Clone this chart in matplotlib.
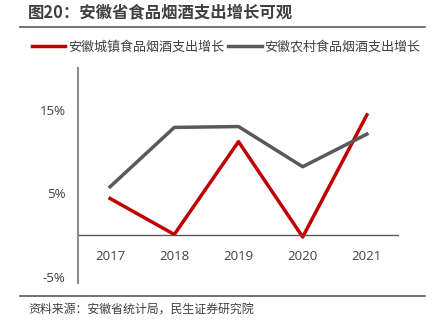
import matplotlib.pyplot as plt
from matplotlib.lines import Line2D

plt.rcParams['font.family'] = ['Noto Sans CJK SC', 'DejaVu Sans']

years = ['2017', '2018', '2019', '2020', '2021']
urban = [4.4, 0.1, 11.2, -0.2, 14.4]
rural = [5.8, 12.9, 13.0, 8.2, 12.1]
yticks = [15, 5, -5]

red = '#C00000'
gray = '#595959'

fig = plt.figure(figsize=(4.33, 3.26), dpi=100)
ax = fig.add_axes([78 / 433, 43 / 326, 321 / 433, 215 / 326])

x = range(len(years))
ax.plot(x, urban, color=red, lw=2.5, label='安徽城镇食品烟酒支出增长')
ax.plot(x, rural, color=gray, lw=2.5, label='安徽农村食品烟酒支出增长')
ax.axhline(0, color='#595959', lw=1)

ax.set_xlim(-0.5, 4.5)
ax.set_ylim(-5.7, 20)
ax.set_yticks(yticks)
ax.set_yticklabels([f'{v}%' for v in yticks])
ax.set_xticks(list(x))
ax.set_xticklabels(years)
for lab in ax.get_xticklabels() + ax.get_yticklabels():
    lab.set_family(['Open Sans', 'DejaVu Sans'])
ax.tick_params(length=0, labelsize=9.5, colors='#404040')
ax.tick_params(axis='y', pad=9)
ax.tick_params(axis='x', pad=-24)
for s in ['top', 'right', 'bottom']:
    ax.spines[s].set_visible(False)
ax.spines['left'].set_color('#8c8c8c')
ax.spines['left'].set_linewidth(1.5)

fig.legend(loc='center', bbox_to_anchor=(0.522, 1 - 47 / 326), ncol=2, frameon=False,
           fontsize=9.4, handlelength=2.6, handletextpad=0.2, columnspacing=0.3,
           labelcolor='#404040')

fig.text(28 / 433, 1 - 12 / 326, '图20：安徽省食品烟酒支出增长可观', fontsize=11.8,
         fontweight='bold', color='#404040', va='center', ha='left')
fig.add_artist(Line2D([20 / 433, 425 / 433], [1 - 27 / 326] * 2, color='#595959', lw=1.2))
fig.add_artist(Line2D([20 / 433, 425 / 433], [1 - 296 / 326] * 2, color='#595959', lw=1.2))
fig.text(28 / 433, 1 - 309 / 326, '资料来源：安徽省统计局，民生证券研究院', fontsize=8.6,
         color='#404040', va='center', ha='left')

fig.savefig('out.png', dpi=100)
